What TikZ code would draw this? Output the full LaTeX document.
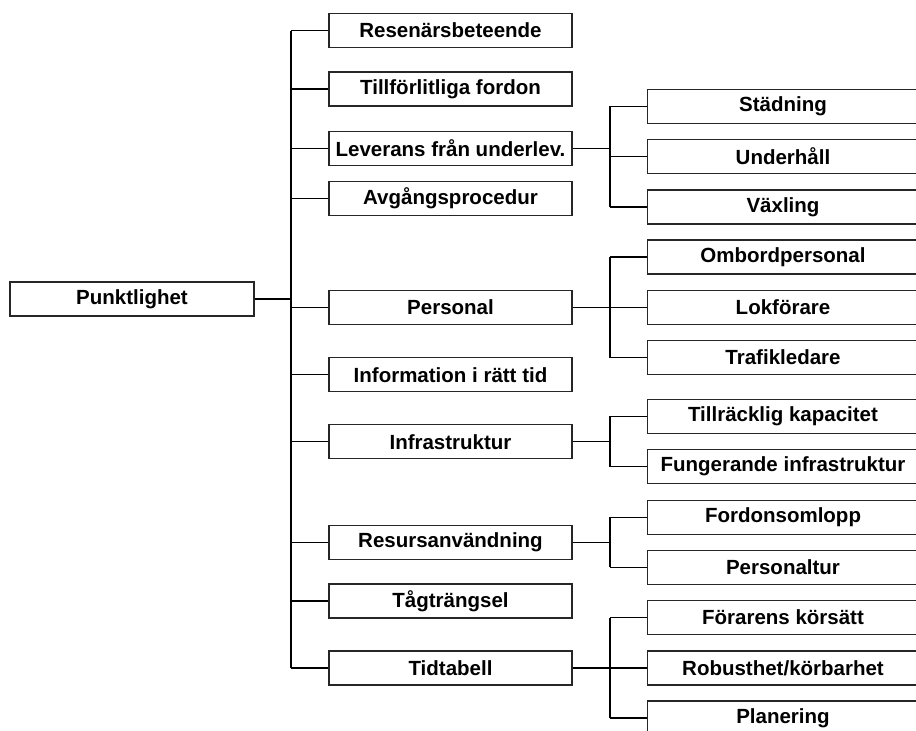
\documentclass[tikz,border=0pt]{standalone}
\usepackage{fontspec}
\setmainfont{Liberation Sans}
\begin{document}
\begin{tikzpicture}[x=1pt,y=-1pt,
  lbl/.style={draw=black!85, line width=1.1pt, fill=white, inner sep=0pt,
    minimum height=34pt, font=\fontsize{20.5}{24}\selectfont\bfseries},
  rootbox/.style={lbl, minimum width=244pt},
  midbox/.style={lbl, minimum width=243pt},
  leafbox/.style={lbl, minimum width=271pt},
  link/.style={line width=1.3pt},
  trunkline/.style={line width=2.3pt}]
\useasboundingbox (0,0) rectangle (916,731);
\begin{scope}
\clip (0,0) rectangle (916,731);

% root
\node[rootbox] (root) at (132,299) {Punktlighet};

% first level
\node[midbox] (m1)  at (450.5,30.5)  {Resenärsbeteende};
\node[midbox] (m2)  at (450.5,89)    {Tillförlitliga fordon};
\node[midbox] (m3)  at (450.5,148.3) {Leverans från underlev.};
\node[midbox] (m4)  at (450.5,198.3) {Avgångsprocedur};
\node[midbox] (m5)  at (450.5,307.5) {Personal};
\node[midbox] (m6)  at (450.5,374.7) {Information i rätt tid};
\node[midbox] (m7)  at (450.5,441.7) {Infrastruktur};
\node[midbox] (m8)  at (450.5,542.5) {Resursanvändning};
\node[midbox] (m9)  at (450.5,601)   {Tågträngsel};
\node[midbox] (m10) at (450.5,668)   {Tidtabell};

% second level
\node[leafbox] (s1)  at (783,106.3) {Städning};
\node[leafbox] (s2)  at (783,156.3) {Underhåll};
\node[leafbox] (s3)  at (783,207)   {Växling};
\node[leafbox] (p1)  at (783,257)   {Ombordpersonal};
\node[leafbox] (p2)  at (783,307.5) {Lokförare};
\node[leafbox] (p3)  at (783,357.5) {Trafikledare};
\node[leafbox] (i1)  at (783,416.3) {Tillräcklig kapacitet};
\node[leafbox] (i2)  at (783,466.7) {Fungerande infrastruktur};
\node[leafbox] (r1)  at (783,517.3) {Fordonsomlopp};
\node[leafbox] (r2)  at (783,567.3) {Personaltur};
\node[leafbox] (t1)  at (783,617.5) {Förarens körsätt};
\node[leafbox] (t2)  at (783,668)   {Robusthet/körbarhet};
\node[leafbox] (t3)  at (783,718)   {Planering};

% branch columns
\coordinate (trunk) at (291,0);
\coordinate (fork) at (610,0);

% root to trunk
\draw[trunkline] (root.east) -- (root.east -| trunk);
\draw[trunkline] (m1.west -| trunk) -- (m10.west -| trunk);
\foreach \m in {m1,m2,m3,m4,m5,m6,m7,m8,m9,m10}
  \draw[link] (\m.west -| trunk) -- (\m.west);

% first level to second level
\draw[link] (m3.east) -- (m3.east -| fork);
\draw[link] (s1.west -| fork) -- (s3.west -| fork);
\foreach \s in {s1,s2,s3} \draw[link] (\s.west -| fork) -- (\s.west);

\draw[link] (m5.east) -- (m5.east -| fork);
\draw[link] (p1.west -| fork) -- (p3.west -| fork);
\foreach \s in {p1,p2,p3} \draw[link] (\s.west -| fork) -- (\s.west);

\draw[link] (m7.east) -- (m7.east -| fork);
\draw[link] (i1.west -| fork) -- (i2.west -| fork);
\foreach \s in {i1,i2} \draw[link] (\s.west -| fork) -- (\s.west);

\draw[link] (m8.east) -- (m8.east -| fork);
\draw[link] (r1.west -| fork) -- (r2.west -| fork);
\foreach \s in {r1,r2} \draw[link] (\s.west -| fork) -- (\s.west);

\draw[link] (m10.east) -- (m10.east -| fork);
\draw[link] (t1.west -| fork) -- (t3.west -| fork);
\foreach \s in {t1,t2,t3} \draw[link] (\s.west -| fork) -- (\s.west);
\end{scope}
\end{tikzpicture}
\end{document}
